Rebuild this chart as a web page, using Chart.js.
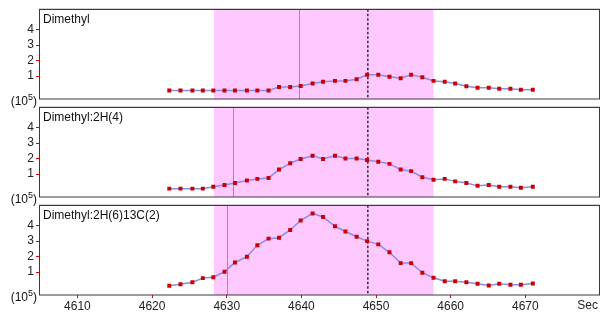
<!DOCTYPE html>
<html><head><meta charset="utf-8">
<script src="https://cdn.jsdelivr.net/npm/chart.js@4/dist/chart.umd.min.js"></script>
<style>
html,body{margin:0;padding:0;background:#fff;width:605px;height:324px;overflow:hidden;}
#wrap{position:relative;width:605px;height:324px;}
canvas{position:absolute;left:0;}
</style></head><body>
<div id="wrap">
<canvas id="c1" width="605" height="110" style="top:0px;width:605px;height:110px;"></canvas>
<canvas id="c2" width="605" height="110" style="top:98px;width:605px;height:110px;"></canvas>
<canvas id="c3" width="605" height="128" style="top:196px;width:605px;height:128px;"></canvas>
</div>
<script>
// ---- data (values in units of 10^5) ----
const times = [4622.3, 4623.8, 4625.4, 4626.8, 4628.2, 4629.7, 4631.1, 4632.7, 4634.1, 4635.6,
  4637.0, 4638.5, 4639.9, 4641.5, 4642.9, 4644.5, 4645.9, 4647.4, 4648.8, 4650.3,
  4651.8, 4653.3, 4654.7, 4656.2, 4657.7, 4659.2, 4660.6, 4662.1, 4663.6, 4665.1,
  4666.5, 4668.0, 4669.4, 4671.0];
const dimethyl = [0.07,0.07,0.07,0.07,0.07,0.07,0.07,0.07,0.07,0.07,
  0.30,0.30,0.36,0.52,0.63,0.69,0.69,0.80,1.08,1.08,
  0.96,0.86,1.08,0.92,0.69,0.63,0.52,0.34,0.24,0.24,
  0.18,0.18,0.12,0.12];
const dimethyl2H4 = [0.06,0.06,0.06,0.06,0.18,0.30,0.43,0.59,0.69,0.75,
  1.29,1.70,1.97,2.19,1.97,2.19,2.01,2.01,1.91,1.80,
  1.66,1.29,1.19,0.80,0.63,0.69,0.53,0.43,0.24,0.30,
  0.18,0.18,0.12,0.18];
const dimethyl2H613C2 = [0.12,0.22,0.35,0.61,0.67,1.02,1.62,1.99,2.73,3.16,
  3.22,3.72,4.33,4.79,4.56,3.96,3.62,3.28,3.00,2.79,
  2.28,1.58,1.58,0.96,0.63,0.41,0.41,0.35,0.24,0.14,
  0.24,0.18,0.18,0.26];
const panelTitles = ['Dimethyl', 'Dimethyl:2H(4)', 'Dimethyl:2H(6)13C(2)'];
const markerTimes = [4639.7, 4630.8, 4630.0];
const apexTime = 4648.9;
const windowStart = 4628.3;
const windowEnd = 4657.7;
const xTicks = [4610, 4620, 4630, 4640, 4650, 4660, 4670];
const yTicks = [1, 2, 3, 4];
const xUnit = 'Sec';

const FONT = 'Liberation Sans, Arial, sans-serif';

const decor = {
  id: 'decor',
  beforeDatasetsDraw(chart, args, o) {
    const {ctx, chartArea: a, scales: {x}} = chart;
    ctx.save();
    const x1 = x.getPixelForValue(windowStart), x2 = x.getPixelForValue(windowEnd);
    ctx.fillStyle = '#ffc8ff';
    ctx.fillRect(x1, a.top, x2 - x1, a.bottom - a.top);
    const mx = Math.round(x.getPixelForValue(o.marker)) + 0.5;
    ctx.strokeStyle = '#a888b4';
    ctx.lineWidth = 1;
    ctx.beginPath(); ctx.moveTo(mx, a.top); ctx.lineTo(mx, a.bottom); ctx.stroke();
    const dx = x.getPixelForValue(apexTime);
    ctx.strokeStyle = '#35283a';
    ctx.lineWidth = 1.5;
    ctx.setLineDash([2.5, 2]);
    ctx.beginPath(); ctx.moveTo(dx, a.top); ctx.lineTo(dx, a.bottom); ctx.stroke();
    ctx.restore();
  },
  afterDraw(chart, args, o) {
    const {ctx, chartArea: a} = chart;
    ctx.save();
    ctx.strokeStyle = '#c8c8c8';
    ctx.lineWidth = 1;
    ctx.beginPath(); ctx.moveTo(a.left, a.top - 0.5); ctx.lineTo(a.right, a.top - 0.5); ctx.stroke();
    ctx.strokeStyle = '#3a3a3a';
    ctx.strokeRect(Math.round(a.left) + 0.5, Math.round(a.top) + 0.5, Math.round(a.right - a.left) - 1, Math.round(a.bottom - a.top) - 0.5);
    ctx.fillStyle = '#111';
    ctx.font = '12px ' + FONT;
    ctx.textBaseline = 'middle';
    ctx.textAlign = 'left';
    ctx.fillText(o.title, a.left + 4, a.top + 10.5);
    const base = a.bottom + 5.5;
    let xr = 37;
    ctx.textBaseline = 'alphabetic';
    ctx.textAlign = 'right';
    ctx.font = '12px ' + FONT;
    ctx.fillText(')', xr, base);
    xr -= ctx.measureText(')').width;
    ctx.font = '9px ' + FONT;
    ctx.fillText('5', xr, base - 5);
    xr -= ctx.measureText('5').width;
    ctx.font = '12px ' + FONT;
    ctx.fillText('(10', xr, base);
    if (o.unit) {
      ctx.textBaseline = 'middle';
      ctx.textAlign = 'right';
      ctx.fillStyle = '#222';
      ctx.fillText(o.unit, 598, a.bottom + 11);
    }
    ctx.restore();
  }
};

function makeChart(id, values, idx, bottom) {
  const data = times.map((t, i) => ({x: t, y: values[i]}));
  return new Chart(document.getElementById(id), {
    type: 'scatter',
    data: {datasets: [{
      data,
      showLine: true,
      borderColor: '#8c8ce6',
      borderWidth: 1.5,
      pointStyle: 'rect',
      pointRadius: 2.8,
      pointBorderWidth: 0,
      pointBackgroundColor: '#cc0000',
      pointBorderColor: '#cc0000',
      tension: 0
    }]},
    options: {
      responsive: false,
      devicePixelRatio: 1,
      animation: false,
      events: [],
      layout: {padding: {left: 0, right: 5, top: 5, bottom: bottom ? 0 : 11}},
      plugins: {
        legend: {display: false},
        tooltip: {enabled: false},
        decor: {title: panelTitles[idx], marker: markerTimes[idx], unit: bottom ? xUnit : null}
      },
      scales: {
        x: {
          type: 'linear', min: 4604.85, max: 4680,
          display: bottom,
          afterBuildTicks: s => { s.ticks = xTicks.map(v => ({value: v})); },
          afterFit: s => { s.height = bottom ? 29 : 0; },
          ticks: {font: {family: FONT, size: 12}, color: '#222', padding: 1, maxRotation: 0, autoSkip: false,
                  callback: v => String(v)},
          grid: {drawOnChartArea: false, tickLength: 3, tickColor: '#e00000', color: '#e00000'},
          border: {display: false}
        },
        y: {
          type: 'linear', min: -0.48, max: 5.32,
          afterBuildTicks: s => { s.ticks = yTicks.map(v => ({value: v})); },
          afterFit: s => { s.width = 39; },
          ticks: {font: {family: FONT, size: 12}, color: '#222', padding: 2, callback: v => String(v)},
          grid: {drawOnChartArea: false, tickLength: 3, tickColor: '#e00000', color: '#e00000'},
          border: {display: false}
        }
      }
    },
    plugins: [decor]
  });
}

makeChart('c1', dimethyl, 0, false);
makeChart('c2', dimethyl2H4, 1, false);
makeChart('c3', dimethyl2H613C2, 2, true);
</script>
</body></html>
